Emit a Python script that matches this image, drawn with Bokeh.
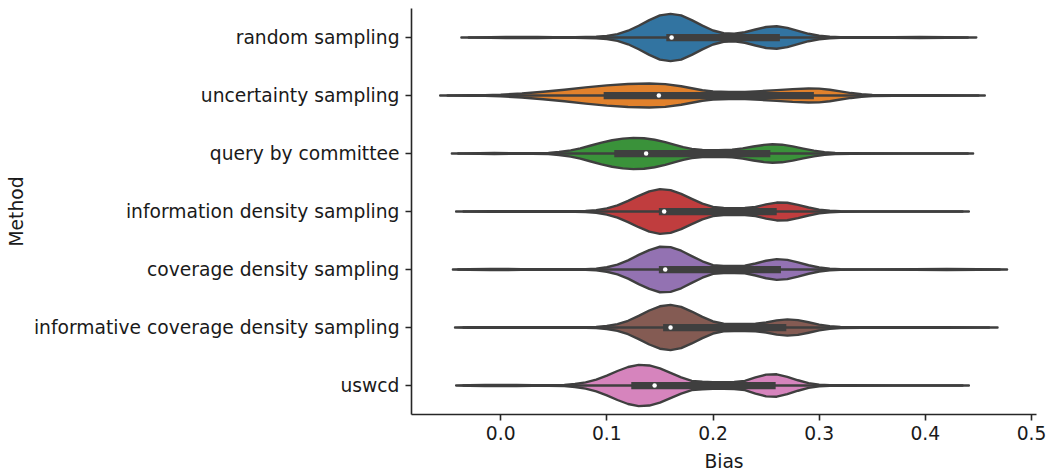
from bokeh.plotting import figure
from bokeh.models import Range1d, FixedTicker, PrintfTickFormatter
from bokeh.embed import file_html
from bokeh.resources import INLINE

methods = ["random sampling", "uncertainty sampling", "query by committee",
           "information density sampling", "coverage density sampling",
           "informative coverage density sampling", "uswcd"]
colors = ["#3274a1", "#e1812c", "#3a923a", "#c03d3e", "#9372b2", "#845b53", "#d684bd"]
gray = "#3f3f3f"

# violin outlines: Bias positions and half-widths (category units)
rs_x = [-0.037, -0.025, -0.01, 0.005, 0.02, 0.035, 0.05, 0.07, 0.09, 0.10, 0.11, 0.12, 0.13, 0.14, 0.15, 0.16, 0.17, 0.18, 0.19, 0.20, 0.21, 0.22, 0.23, 0.24, 0.25, 0.26, 0.27, 0.28, 0.29, 0.30, 0.31, 0.32, 0.34, 0.37, 0.395, 0.42, 0.44, 0.448]
rs_w = [0.0, 0.003, 0.006, 0.009, 0.011, 0.009, 0.005, 0.004, 0.012, 0.027, 0.059, 0.117, 0.203, 0.3, 0.381, 0.408, 0.381, 0.3, 0.204, 0.121, 0.073, 0.064, 0.09, 0.138, 0.181, 0.194, 0.165, 0.114, 0.064, 0.03, 0.013, 0.006, 0.004, 0.007, 0.011, 0.007, 0.003, 0.0]

us_x = [-0.057, -0.045, -0.03, -0.015, 0.0, 0.02, 0.04, 0.06, 0.08, 0.10, 0.12, 0.14, 0.155, 0.17, 0.18, 0.19, 0.20, 0.215, 0.23, 0.245, 0.26, 0.275, 0.29, 0.30, 0.31, 0.32, 0.33, 0.34, 0.35, 0.37, 0.41, 0.44, 0.456]
us_w = [0.0, 0.003, 0.004, 0.006, 0.014, 0.035, 0.065, 0.1, 0.14, 0.174, 0.198, 0.207, 0.196, 0.16, 0.125, 0.09, 0.07, 0.062, 0.063, 0.075, 0.092, 0.11, 0.12, 0.118, 0.1, 0.07, 0.042, 0.022, 0.01, 0.004, 0.004, 0.003, 0.0]

qbc_x = [-0.046, -0.035, -0.02, -0.006, 0.01, 0.03, 0.045, 0.055, 0.066, 0.075, 0.085, 0.095, 0.105, 0.115, 0.125, 0.135, 0.145, 0.155, 0.165, 0.172, 0.18, 0.19, 0.205, 0.218, 0.228, 0.238, 0.248, 0.256, 0.265, 0.275, 0.285, 0.295, 0.305, 0.315, 0.33, 0.38, 0.43, 0.445]
qbc_w = [0.0, 0.003, 0.007, 0.01, 0.006, 0.004, 0.01, 0.026, 0.053, 0.088, 0.138, 0.188, 0.228, 0.256, 0.27, 0.262, 0.237, 0.195, 0.145, 0.11, 0.08, 0.062, 0.058, 0.066, 0.088, 0.12, 0.148, 0.16, 0.152, 0.123, 0.085, 0.05, 0.024, 0.01, 0.004, 0.003, 0.002, 0.0]

ids_x = [-0.042, -0.03, -0.01, 0.02, 0.05, 0.07, 0.08, 0.09, 0.10, 0.11, 0.12, 0.13, 0.14, 0.15, 0.16, 0.17, 0.18, 0.19, 0.20, 0.21, 0.22, 0.23, 0.24, 0.25, 0.26, 0.27, 0.28, 0.29, 0.30, 0.31, 0.32, 0.34, 0.38, 0.42, 0.441]
ids_w = [0.0, 0.003, 0.004, 0.004, 0.004, 0.006, 0.01, 0.024, 0.054, 0.106, 0.183, 0.271, 0.348, 0.386, 0.369, 0.305, 0.218, 0.135, 0.08, 0.062, 0.058, 0.062, 0.078, 0.123, 0.154, 0.15, 0.115, 0.069, 0.033, 0.013, 0.006, 0.003, 0.003, 0.002, 0.0]

cds_x = [-0.045, -0.03, -0.01, 0.005, 0.02, 0.04, 0.06, 0.08, 0.09, 0.10, 0.11, 0.12, 0.13, 0.14, 0.15, 0.16, 0.17, 0.18, 0.19, 0.20, 0.21, 0.22, 0.23, 0.24, 0.25, 0.26, 0.27, 0.28, 0.29, 0.30, 0.31, 0.32, 0.35, 0.39, 0.42, 0.45, 0.477]
cds_w = [0.0, 0.004, 0.008, 0.009, 0.007, 0.004, 0.004, 0.007, 0.015, 0.039, 0.084, 0.158, 0.251, 0.335, 0.392, 0.386, 0.324, 0.231, 0.142, 0.076, 0.062, 0.06, 0.064, 0.103, 0.151, 0.178, 0.166, 0.123, 0.073, 0.035, 0.013, 0.005, 0.003, 0.006, 0.008, 0.005, 0.0]

icds_x = [-0.043, -0.03, -0.01, 0.02, 0.05, 0.08, 0.09, 0.10, 0.11, 0.12, 0.13, 0.14, 0.15, 0.16, 0.17, 0.18, 0.19, 0.20, 0.21, 0.22, 0.23, 0.24, 0.25, 0.26, 0.27, 0.28, 0.29, 0.30, 0.31, 0.32, 0.34, 0.38, 0.42, 0.45, 0.468]
icds_w = [0.0, 0.004, 0.006, 0.005, 0.004, 0.005, 0.01, 0.025, 0.058, 0.116, 0.2, 0.293, 0.366, 0.39, 0.355, 0.275, 0.182, 0.104, 0.065, 0.06, 0.06, 0.066, 0.086, 0.123, 0.14, 0.127, 0.09, 0.05, 0.023, 0.009, 0.004, 0.004, 0.004, 0.003, 0.0]

usw_x = [-0.042, -0.03, -0.015, 0.0, 0.015, 0.03, 0.045, 0.06, 0.07, 0.08, 0.09, 0.10, 0.11, 0.12, 0.13, 0.14, 0.15, 0.16, 0.17, 0.18, 0.19, 0.20, 0.21, 0.22, 0.23, 0.24, 0.25, 0.26, 0.27, 0.28, 0.29, 0.30, 0.31, 0.33, 0.37, 0.41, 0.441]
usw_w = [0.0, 0.004, 0.008, 0.011, 0.01, 0.007, 0.006, 0.011, 0.025, 0.054, 0.102, 0.171, 0.25, 0.319, 0.356, 0.346, 0.294, 0.218, 0.141, 0.08, 0.065, 0.058, 0.058, 0.062, 0.08, 0.139, 0.187, 0.193, 0.15, 0.09, 0.041, 0.015, 0.007, 0.004, 0.003, 0.003, 0.0]

# inner box statistics
q1 = [0.156, 0.097, 0.107, 0.149, 0.149, 0.153, 0.123]
q3 = [0.263, 0.295, 0.254, 0.260, 0.264, 0.269, 0.259]
medians = [0.161, 0.149, 0.137, 0.154, 0.155, 0.160, 0.145]
whisk_lo = [-0.03, -0.05, -0.04, -0.035, -0.04, -0.035, -0.035]
whisk_hi = [0.44, 0.45, 0.44, 0.435, 0.47, 0.46, 0.435]

x_ticks = [0.0, 0.1, 0.2, 0.3, 0.4, 0.5]

profiles = [(rs_x, rs_w), (us_x, us_w), (qbc_x, qbc_w), (ids_x, ids_w),
            (cds_x, cds_w), (icds_x, icds_w), (usw_x, usw_w)]

ypos = list(range(len(methods)))

p = figure(width=1052, height=474, output_backend="svg", toolbar_location=None,
           x_range=Range1d(-0.084, 0.5047), y_range=Range1d(6.5, -0.5),
           min_border_left=411, min_border_right=16, min_border_top=8, min_border_bottom=60)

xs_all, ys_all = [], []
for i, (xs, ws) in enumerate(profiles):
    assert len(xs) == len(ws)
    xs_all.append(list(xs) + list(xs[::-1]))
    ys_all.append([i - w for w in ws] + [i + w for w in ws[::-1]])

p.patches(xs=xs_all, ys=ys_all, fill_color=colors, line_color=gray, line_width=2.4,
          line_join="round")
p.segment(x0=whisk_lo, y0=ypos, x1=whisk_hi, y1=ypos, line_color=gray, line_width=2.4,
          line_cap="round")
p.hbar(y=ypos, left=q1, right=q3, height=0.125, fill_color=gray, line_color=None)
p.scatter(x=medians, y=ypos, size=4.5, fill_color="white", line_color=None)

p.xaxis.ticker = FixedTicker(ticks=x_ticks)
p.xaxis.formatter = PrintfTickFormatter(format="%.1f")
p.yaxis.ticker = FixedTicker(ticks=ypos)
p.yaxis.major_label_overrides = {i: m for i, m in enumerate(methods)}
p.xaxis.axis_label = "Bias"
p.yaxis.axis_label = "Method"

for ax in (p.xaxis[0], p.yaxis[0]):
    ax.axis_line_color = "#262626"
    ax.axis_line_width = 1.6
    ax.major_tick_line_color = "#262626"
    ax.major_tick_line_width = 1.6
    ax.major_tick_out = 6
    ax.major_tick_in = 0
    ax.minor_tick_line_color = None
    ax.major_label_text_font = "DejaVu Sans"
    ax.major_label_text_font_size = "18.7px"
    ax.major_label_text_color = "#1a1a1a"
    ax.axis_label_text_font = "DejaVu Sans"
    ax.axis_label_text_font_size = "18.7px"
    ax.axis_label_text_font_style = "normal"
    ax.axis_label_text_color = "#1a1a1a"

p.xaxis.major_label_standoff = 5
p.xaxis.axis_label_standoff = 8
p.yaxis.major_label_standoff = 6
p.yaxis.axis_label_standoff = 4

p.xgrid.visible = False
p.ygrid.visible = False
p.outline_line_color = None

open("out.html", "w").write(file_html(p, INLINE))
